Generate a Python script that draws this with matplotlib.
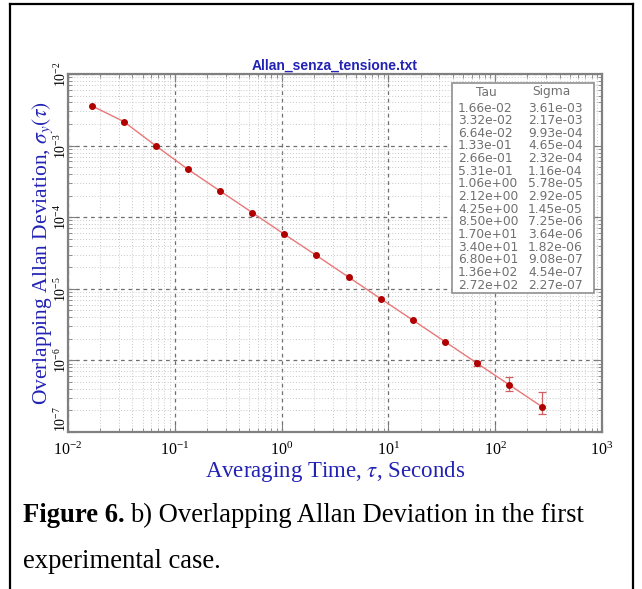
import numpy as np
import matplotlib.pyplot as plt
from matplotlib.lines import Line2D
from matplotlib.patches import Rectangle
from matplotlib.ticker import LogLocator, NullFormatter

tau = [1.66e-02, 3.32e-02, 6.64e-02, 1.33e-01, 2.66e-01, 5.31e-01, 1.06e+00, 2.12e+00,
       4.25e+00, 8.50e+00, 1.70e+01, 3.40e+01, 6.80e+01, 1.36e+02, 2.72e+02]
sigma = [3.61e-03, 2.17e-03, 9.93e-04, 4.65e-04, 2.32e-04, 1.16e-04, 5.78e-05, 2.92e-05,
         1.45e-05, 7.25e-06, 3.64e-06, 1.82e-06, 9.08e-07, 4.54e-07, 2.27e-07]
# error bar ends (only the last points show visible bars)
err_tau = [6.80e+01, 1.36e+02, 2.72e+02]
err_sig = [9.08e-07, 4.54e-07, 2.27e-07]
err_low = [8.3e-07, 3.72e-07, 1.78e-07]
err_high = [9.9e-07, 5.86e-07, 3.63e-07]

serif = ['Liberation Serif', 'DejaVu Serif']
plt.rcParams['font.family'] = serif
plt.rcParams['mathtext.fontset'] = 'stix'
blue = '#2222b4'

fig = plt.figure(figsize=(6.42, 5.89), dpi=100)
ax = fig.add_axes([68/642, 1-432/589, 534/642, 358/589])

ax.set_xscale('log')
ax.set_yscale('log')
ax.set_xlim(1e-2, 1e3)
ax.set_ylim(1e-7, 1e-2)

ax.plot(tau, sigma, '-', color='#e87878', linewidth=1.0, zorder=3)
yerr = [np.array(err_sig) - np.array(err_low), np.array(err_high) - np.array(err_sig)]
ax.errorbar(err_tau, err_sig, yerr=yerr, fmt='none', ecolor='#d06060', elinewidth=0.9,
            capsize=3, capthick=0.9, zorder=3)
ax.plot(tau, sigma, 'o', color='#b00000', markersize=4, zorder=4)

# grid
ax.xaxis.set_minor_locator(LogLocator(base=10, subs=np.arange(2, 10), numticks=20))
ax.yaxis.set_minor_locator(LogLocator(base=10, subs=np.arange(2, 10), numticks=20))
ax.xaxis.set_minor_formatter(NullFormatter())
ax.yaxis.set_minor_formatter(NullFormatter())
ax.grid(True, which='major', linestyle=(0, (3, 3)), color='#707070', linewidth=0.9)
ax.grid(True, which='minor', linestyle=(0, (1, 2)), color='#c8c8c8', linewidth=0.7)
ax.set_axisbelow(True)

for s in ax.spines.values():
    s.set_color('#808080')
    s.set_linewidth(1.6)
ax.tick_params(which='both', direction='in', top=True, right=True, colors='#808080')
ax.tick_params(which='major', length=6, labelcolor='black')
ax.tick_params(which='minor', length=3)
ax.tick_params(axis='x', labelsize=11.5, pad=7)
ax.tick_params(axis='y', labelsize=10, pad=-1)

ax.set_xlabel(r'Averaging Time, $\tau$, Seconds', color=blue, fontsize=16.5, labelpad=0)
ax.set_ylabel(r'Overlapping Allan Deviation, $\sigma_y(\tau)$', color=blue, fontsize=15.5,
              labelpad=-1)
ax.set_title('Allan_senza_tensione.txt', color=blue, fontsize=10, fontweight='bold',
             family=['Liberation Sans', 'DejaVu Sans'], pad=3)

# table of values inside the plot
bx0, bx1 = (452-68)/534, (594-68)/534
by0, by1 = (432-293)/358, (432-83)/358
ax.add_patch(Rectangle((bx0, by0), bx1-bx0, by1-by0, transform=ax.transAxes,
                       facecolor='white', edgecolor='#909090', linewidth=1.2, zorder=5))
tcol = '#707070'
tfont = ['DejaVu Sans']
tsize = 8.8
ax.text((486-68)/534, (432-92)/358, 'Tau', transform=ax.transAxes, ha='center', va='center',
        color=tcol, fontsize=tsize, family=tfont, zorder=6)
ax.text((551-68)/534, (432-92)/358, 'Sigma', transform=ax.transAxes, ha='center', va='center',
        color=tcol, fontsize=tsize, family=tfont, zorder=6)
for i, (t, s) in enumerate(zip(tau, sigma)):
    yy = (432 - (108 + 12.65*i))/358
    ax.text((458-68)/534, yy, '%.2e' % t, transform=ax.transAxes, ha='left', va='center',
            color=tcol, fontsize=tsize, family=tfont, zorder=6)
    ax.text((528-68)/534, yy, '%.2e' % s, transform=ax.transAxes, ha='left', va='center',
            color=tcol, fontsize=tsize, family=tfont, zorder=6)

# page frame
for xs, ys in [([10/642, 10/642], [0, 1-4/589]), ([633/642, 633/642], [0, 1-4/589]),
               ([10/642, 633/642], [1-4/589, 1-4/589])]:
    fig.add_artist(Line2D(xs, ys, color='black', linewidth=1.6, transform=fig.transFigure))

# caption
csize = 19.2
cap1 = fig.text(23/642, 1-515/589, 'Figure 6.', fontsize=csize, fontweight='bold', va='center')
fig.canvas.draw()
bb = cap1.get_window_extent()
fig.text(bb.x1/642 + 5/642, 1-515/589, 'b) Overlapping Allan Deviation in the first',
         fontsize=csize, va='center')
fig.text(23/642, 1-562/589, 'experimental case.', fontsize=csize, va='center')

# rotated y tick labels; the lowest one sits just above the corner
for tick in ax.yaxis.get_major_ticks():
    tick.label1.set_rotation(90)
    if np.isclose(tick.get_loc(), 1e-7):
        tick.label1.set_va('bottom')
    else:
        tick.label1.set_va('center')

fig.savefig('out.png', dpi=100)
